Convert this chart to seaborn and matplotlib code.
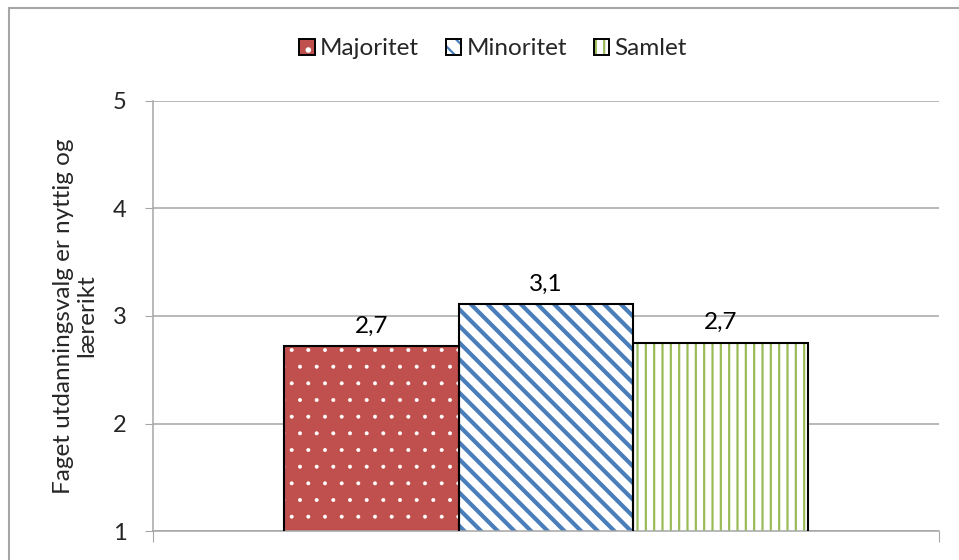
import matplotlib
matplotlib.use("Agg")
import matplotlib.pyplot as plt
import matplotlib.patches as mpatches
import seaborn as sns
import pandas as pd

# data
groups = ["Majoritet", "Minoritet", "Samlet"]
values = [2.72, 3.11, 2.75]
value_labels = ["2,7", "3,1", "2,7"]
category = [""]
ylabel = "Faget utdanningsvalg er nyttig og\nlærerikt"

face_colors = ["#C0504D", "white", "white"]
hatch_colors = ["white", "#4A7EBB", "#9BBB59"]
hatches = [".", "\\\\", "||"]
hatch_widths = [0.4, 3.0, 1.6]

sns.set_style("white")
plt.rcParams["font.family"] = ["Lato", "DejaVu Sans"]
plt.rcParams["hatch.linewidth"] = 1.6

df = pd.DataFrame({"cat": category * len(groups), "group": groups, "value": values})

fig = plt.figure(figsize=(9.59, 5.60), dpi=100)
ax = fig.add_axes([153 / 959, 29 / 560, 786 / 959, 430 / 560])

sns.barplot(data=df, x="cat", y="value", hue="group", hue_order=groups,
            palette=face_colors, width=0.667, saturation=1, legend=False, ax=ax)


def style_hatch(p, fc, hc, h, hw):
    p.set_facecolor(fc)
    p.set_edgecolor(hc)
    p.set_hatch(h)
    p.set_linewidth(0)
    if hasattr(p, "set_hatch_linewidth"):
        p.set_hatch_linewidth(hw)


bars = [p for p in ax.patches]
for p, fc, hc, h, hw, lab in zip(bars, face_colors, hatch_colors, hatches, hatch_widths, value_labels):
    style_hatch(p, fc, hc, h, hw)
    ax.add_patch(mpatches.Rectangle(p.get_xy(), p.get_width(), p.get_height(),
                                    fill=False, edgecolor="black", linewidth=1.5, zorder=3))
    ax.annotate(lab, (p.get_x() + p.get_width() / 2, p.get_height()),
                xytext=(0, 7), textcoords="offset points", ha="center", va="bottom",
                fontsize=17.5, color="black")

ax.set_ylim(1, 5)
ax.set_yticks([1, 2, 3, 4, 5])
ax.set_xlim(-0.5, 0.5)
ax.set_xticks([-0.5, 0.5])
ax.set_xticklabels([])
ax.set_xlabel("")
ax.set_ylabel(ylabel, fontsize=17.5, labelpad=11, linespacing=1.15)
ax.grid(axis="y", color="#A6A6A6", linewidth=1.1)
ax.set_axisbelow(True)
for side in ["top", "right"]:
    ax.spines[side].set_visible(False)
for side in ["left", "bottom"]:
    ax.spines[side].set_color("#A6A6A6")
    ax.spines[side].set_linewidth(1.1)
ax.tick_params(axis="y", direction="out", length=6, color="#A6A6A6", labelsize=17, pad=13, left=True)
ax.tick_params(axis="x", direction="out", length=8, color="#A6A6A6", bottom=True)

handles = []
for g, fc, hc, h, hw in zip(groups, face_colors, hatch_colors, hatches, hatch_widths):
    hp = mpatches.Patch()
    style_hatch(hp, fc, hc, h, hw)
    outline = mpatches.Patch(fill=False, edgecolor="black", linewidth=1.4)
    handles.append((hp, outline))
leg = fig.legend(handles=handles, labels=groups, loc="center", bbox_to_anchor=(0.514, 0.913), ncol=3,
                 frameon=False, fontsize=17.5, handlelength=0.65, handleheight=0.65,
                 handletextpad=0.2, columnspacing=1.1)

# outer chart frame (left and top visible)
fig.add_artist(mpatches.Rectangle((9 / 959, -0.1), 1.2, 1 - 8 / 560 + 0.1,
                                  transform=fig.transFigure, fill=False,
                                  edgecolor="#A6A6A6", linewidth=1.5))

fig.savefig("out.png", dpi=100)
